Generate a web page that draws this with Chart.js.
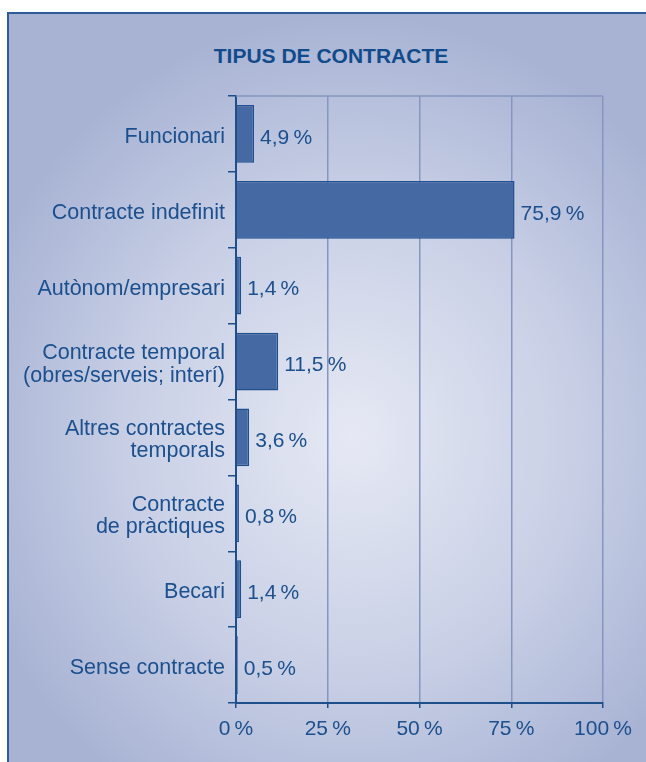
<!DOCTYPE html>
<html lang="ca">
<head>
    <meta charset="UTF-8">
    <title>Tipus de contracte</title>
    <script src="https://cdn.jsdelivr.net/npm/chart.js"></script>
    <style>
        body {
            margin: 0;
            background: #ffffff;
            font-family: "Liberation Sans", Arial, sans-serif;
        }
        .frame {
            position: absolute;
            left: 7px;
            top: 12px;
            width: 660px;
            height: 770px;
            border: 2px solid #2e5c99;
            background: radial-gradient(ellipse 60% 55% at 52% 55%, #e6e9f4 0%, #c9d0e6 55%, #a8b3d4 100%);
        }
        .title {
            position: absolute;
            left: 131px;
            top: 45px;
            width: 400px;
            text-align: center;
            font-weight: bold;
            font-size: 21px;
            line-height: 21px;
            color: #124b8c;
            white-space: nowrap;
        }
        canvas {
            position: absolute;
            left: 0;
            top: 0;
        }
    </style>
</head>
<body>
    <div class="frame"></div>
    <div class="title">TIPUS DE CONTRACTE</div>
    <canvas id="chartCanvas" width="646" height="762"></canvas>

    <script>
        const categories = [
            ['Funcionari'],
            ['Contracte indefinit'],
            ['Autònom/empresari'],
            ['Contracte temporal', '(obres/serveis; interí)'],
            ['Altres contractes', 'temporals'],
            ['Contracte', 'de pràctiques'],
            ['Becari'],
            ['Sense contracte']
        ];
        const shares = [4.9, 75.9, 1.4, 11.5, 3.6, 0.8, 1.4, 0.5];
        const xTicks = [0, 25, 50, 75, 100];

        const textColor = '#1b4f8d';
        const axisColor = '#1d4f8b';
        const gridColor = '#8596c0';

        function pct(v, decimals) {
            return v.toFixed(decimals).replace('.', ',') + '\u2009%';
        }

        // value labels right of each bar + light line on top of the plot
        const extras = {
            id: 'extras',
            beforeDatasetsDraw(chart) {
                const { ctx, chartArea } = chart;
                ctx.save();
                ctx.strokeStyle = gridColor;
                ctx.lineWidth = 1.5;
                ctx.beginPath();
                ctx.moveTo(chartArea.left, chartArea.top);
                ctx.lineTo(chartArea.right, chartArea.top);
                ctx.stroke();
                ctx.restore();
            },
            afterDatasetsDraw(chart) {
                const { ctx } = chart;
                const meta = chart.getDatasetMeta(0);
                ctx.save();
                ctx.fillStyle = textColor;
                ctx.font = '21px "Liberation Sans", Arial, sans-serif';
                ctx.textAlign = 'left';
                ctx.textBaseline = 'middle';
                meta.data.forEach((bar, i) => {
                    ctx.fillText(pct(shares[i], 1), bar.x + 6, bar.y + 4);
                });
                ctx.restore();
            }
        };

        new Chart(document.getElementById('chartCanvas'), {
            type: 'bar',
            data: {
                labels: categories,
                datasets: [{
                    data: shares,
                    backgroundColor: '#4469a3',
                    borderColor: '#1f4f8f',
                    borderWidth: 1.5,
                    barPercentage: 0.76,
                    categoryPercentage: 1
                }]
            },
            options: {
                indexAxis: 'y',
                responsive: false,
                animation: false,
                layout: { padding: { top: 96, right: 43, bottom: 0, left: 0 } },
                plugins: {
                    legend: { display: false },
                    title: { display: false },
                    tooltip: { enabled: false }
                },
                scales: {
                    x: {
                        min: 0,
                        max: 100,
                        afterBuildTicks(axis) {
                            axis.ticks = xTicks.map(v => ({ value: v }));
                        },
                        afterFit(axis) { axis.height = 59; },
                        grid: {
                            color: gridColor,
                            lineWidth: 1.5,
                            drawTicks: true,
                            tickLength: 5,
                            tickColor: axisColor
                        },
                        border: { color: axisColor, width: 2 },
                        ticks: {
                            color: textColor,
                            padding: 9,
                            font: { family: '"Liberation Sans", Arial, sans-serif', size: 21 },
                            callback: v => pct(v, 0)
                        }
                    },
                    y: {
                        afterFit(axis) { axis.width = 236; },
                        grid: {
                            drawOnChartArea: false,
                            drawTicks: true,
                            tickLength: 8,
                            tickColor: axisColor,
                            lineWidth: 1.5,
                            offset: true
                        },
                        border: { color: axisColor, width: 2 },
                        ticks: {
                            color: textColor,
                            padding: 3,
                            labelOffset: 3,
                            font: { family: '"Liberation Sans", Arial, sans-serif', size: 21.5, lineHeight: 1.03 }
                        }
                    }
                }
            },
            plugins: [extras]
        });
    </script>
</body>
</html>
